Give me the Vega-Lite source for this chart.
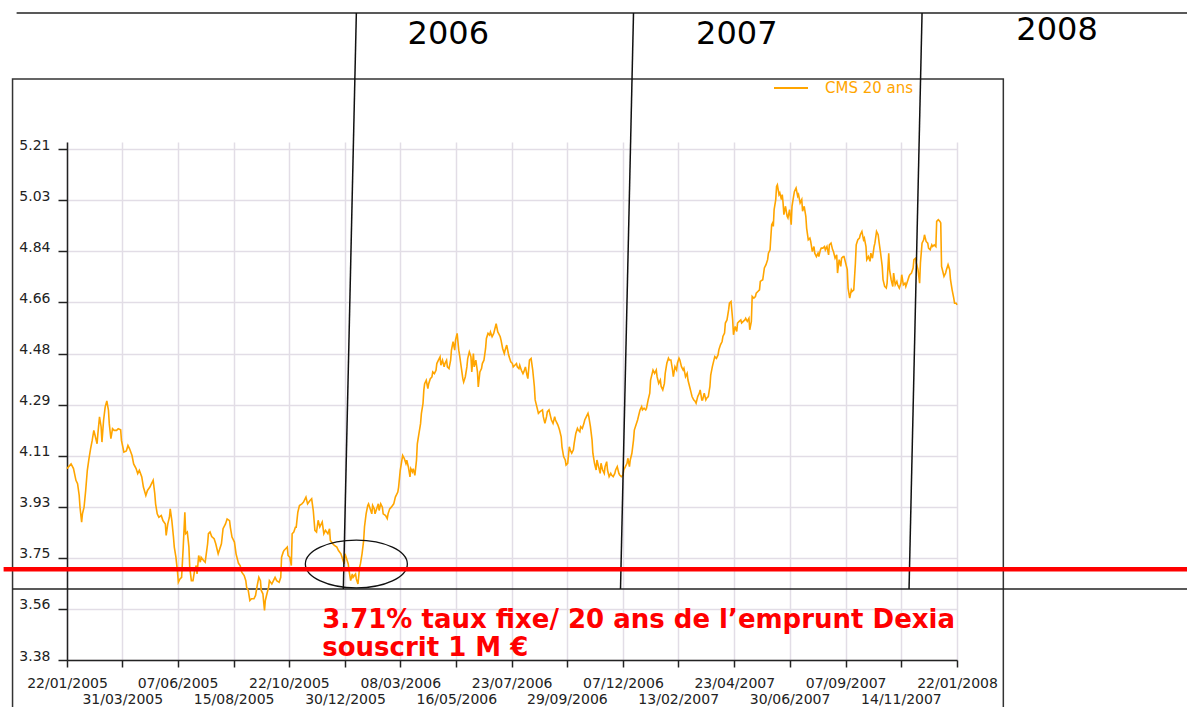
{
  "$schema": "https://vega.github.io/schema/vega-lite/v6.json",
  "width": 890,
  "height": 518,
  "autosize": "none",
  "padding": {"left": 67, "top": 142, "right": 230, "bottom": 47},
  "background": "white",
  "config": {"view": {"stroke": null}, "font": "DejaVu Sans"},
  "datasets": {
    "cms": [
      {"date":"2005-01-22","value":4.065},{"date":"2005-01-27","value":4.082},{"date":"2005-01-30","value":4.065},{"date":"2005-02-02","value":4.023},{"date":"2005-02-04","value":4.011},{"date":"2005-02-06","value":3.969},{"date":"2005-02-07","value":3.927},{"date":"2005-02-09","value":3.873},{"date":"2005-02-10","value":3.903},{"date":"2005-02-12","value":3.927},{"date":"2005-02-14","value":3.987},{"date":"2005-02-16","value":4.059},{"date":"2005-02-18","value":4.100},{"date":"2005-02-20","value":4.136},{"date":"2005-02-22","value":4.166},{"date":"2005-02-24","value":4.202},{"date":"2005-02-26","value":4.178},{"date":"2005-02-28","value":4.154},{"date":"2005-03-01","value":4.190},{"date":"2005-03-03","value":4.250},{"date":"2005-03-05","value":4.214},{"date":"2005-03-06","value":4.160},{"date":"2005-03-08","value":4.238},{"date":"2005-03-10","value":4.286},{"date":"2005-03-12","value":4.307},{"date":"2005-03-14","value":4.274},{"date":"2005-03-15","value":4.226},{"date":"2005-03-17","value":4.172},{"date":"2005-03-19","value":4.208},{"date":"2005-03-21","value":4.202},{"date":"2005-03-24","value":4.202},{"date":"2005-03-26","value":4.208},{"date":"2005-03-29","value":4.204},{"date":"2005-03-30","value":4.166},{"date":"2005-04-02","value":4.124},{"date":"2005-04-05","value":4.128},{"date":"2005-04-07","value":4.148},{"date":"2005-04-09","value":4.136},{"date":"2005-04-12","value":4.112},{"date":"2005-04-14","value":4.082},{"date":"2005-04-17","value":4.065},{"date":"2005-04-19","value":4.047},{"date":"2005-04-21","value":4.059},{"date":"2005-04-24","value":4.035},{"date":"2005-04-26","value":3.999},{"date":"2005-04-29","value":3.969},{"date":"2005-05-01","value":3.987},{"date":"2005-05-04","value":3.999},{"date":"2005-05-06","value":4.011},{"date":"2005-05-08","value":4.023},{"date":"2005-05-10","value":3.975},{"date":"2005-05-11","value":3.939},{"date":"2005-05-13","value":3.903},{"date":"2005-05-15","value":3.891},{"date":"2005-05-18","value":3.897},{"date":"2005-05-20","value":3.879},{"date":"2005-05-23","value":3.867},{"date":"2005-05-24","value":3.826},{"date":"2005-05-26","value":3.867},{"date":"2005-05-28","value":3.891},{"date":"2005-05-29","value":3.921},{"date":"2005-05-31","value":3.879},{"date":"2005-06-02","value":3.820},{"date":"2005-06-03","value":3.784},{"date":"2005-06-05","value":3.748},{"date":"2005-06-07","value":3.694},{"date":"2005-06-08","value":3.658},{"date":"2005-06-10","value":3.670},{"date":"2005-06-12","value":3.676},{"date":"2005-06-14","value":3.784},{"date":"2005-06-16","value":3.909},{"date":"2005-06-17","value":3.832},{"date":"2005-06-19","value":3.838},{"date":"2005-06-21","value":3.784},{"date":"2005-06-22","value":3.712},{"date":"2005-06-24","value":3.664},{"date":"2005-06-26","value":3.664},{"date":"2005-06-28","value":3.700},{"date":"2005-06-30","value":3.718},{"date":"2005-07-01","value":3.688},{"date":"2005-07-03","value":3.754},{"date":"2005-07-05","value":3.730},{"date":"2005-07-06","value":3.748},{"date":"2005-07-09","value":3.736},{"date":"2005-07-11","value":3.730},{"date":"2005-07-14","value":3.796},{"date":"2005-07-15","value":3.832},{"date":"2005-07-17","value":3.838},{"date":"2005-07-19","value":3.822},{"date":"2005-07-22","value":3.814},{"date":"2005-07-24","value":3.796},{"date":"2005-07-27","value":3.760},{"date":"2005-07-29","value":3.778},{"date":"2005-07-31","value":3.796},{"date":"2005-08-02","value":3.850},{"date":"2005-08-05","value":3.867},{"date":"2005-08-07","value":3.885},{"date":"2005-08-10","value":3.879},{"date":"2005-08-11","value":3.855},{"date":"2005-08-13","value":3.820},{"date":"2005-08-16","value":3.802},{"date":"2005-08-18","value":3.760},{"date":"2005-08-21","value":3.726},{"date":"2005-08-23","value":3.718},{"date":"2005-08-25","value":3.694},{"date":"2005-08-28","value":3.682},{"date":"2005-08-30","value":3.664},{"date":"2005-08-31","value":3.640},{"date":"2005-09-02","value":3.629},{"date":"2005-09-04","value":3.593},{"date":"2005-09-06","value":3.599},{"date":"2005-09-09","value":3.599},{"date":"2005-09-11","value":3.611},{"date":"2005-09-13","value":3.646},{"date":"2005-09-15","value":3.676},{"date":"2005-09-17","value":3.664},{"date":"2005-09-18","value":3.629},{"date":"2005-09-20","value":3.617},{"date":"2005-09-22","value":3.557},{"date":"2005-09-23","value":3.593},{"date":"2005-09-25","value":3.617},{"date":"2005-09-27","value":3.640},{"date":"2005-09-28","value":3.664},{"date":"2005-10-01","value":3.652},{"date":"2005-10-03","value":3.664},{"date":"2005-10-05","value":3.676},{"date":"2005-10-07","value":3.664},{"date":"2005-10-10","value":3.658},{"date":"2005-10-12","value":3.676},{"date":"2005-10-13","value":3.748},{"date":"2005-10-15","value":3.766},{"date":"2005-10-16","value":3.772},{"date":"2005-10-18","value":3.778},{"date":"2005-10-20","value":3.784},{"date":"2005-10-21","value":3.754},{"date":"2005-10-23","value":3.748},{"date":"2005-10-25","value":3.718},{"date":"2005-10-26","value":3.832},{"date":"2005-10-28","value":3.838},{"date":"2005-10-30","value":3.855},{"date":"2005-10-31","value":3.855},{"date":"2005-11-02","value":3.909},{"date":"2005-11-04","value":3.933},{"date":"2005-11-07","value":3.939},
      {"date":"2005-11-09","value":3.945},{"date":"2005-11-12","value":3.963},{"date":"2005-11-14","value":3.939},{"date":"2005-11-17","value":3.951},{"date":"2005-11-19","value":3.957},{"date":"2005-11-21","value":3.915},{"date":"2005-11-23","value":3.844},{"date":"2005-11-25","value":3.838},{"date":"2005-11-27","value":3.880},{"date":"2005-11-29","value":3.856},{"date":"2005-12-02","value":3.874},{"date":"2005-12-04","value":3.832},{"date":"2005-12-06","value":3.844},{"date":"2005-12-09","value":3.832},{"date":"2005-12-11","value":3.850},{"date":"2005-12-12","value":3.808},{"date":"2005-12-15","value":3.796},{"date":"2005-12-17","value":3.790},{"date":"2005-12-20","value":3.784},{"date":"2005-12-22","value":3.772},{"date":"2005-12-25","value":3.760},{"date":"2005-12-27","value":3.742},{"date":"2005-12-29","value":3.724},{"date":"2005-12-30","value":3.760},{"date":"2006-01-01","value":3.742},{"date":"2006-01-03","value":3.724},{"date":"2006-01-04","value":3.700},{"date":"2006-01-06","value":3.664},{"date":"2006-01-08","value":3.688},{"date":"2006-01-09","value":3.676},{"date":"2006-01-12","value":3.688},{"date":"2006-01-13","value":3.670},{"date":"2006-01-15","value":3.652},{"date":"2006-01-17","value":3.712},{"date":"2006-01-18","value":3.724},{"date":"2006-01-20","value":3.760},{"date":"2006-01-22","value":3.808},{"date":"2006-01-23","value":3.856},{"date":"2006-01-25","value":3.903},{"date":"2006-01-27","value":3.933},{"date":"2006-01-28","value":3.939},{"date":"2006-01-30","value":3.921},{"date":"2006-02-01","value":3.903},{"date":"2006-02-02","value":3.933},{"date":"2006-02-04","value":3.921},{"date":"2006-02-05","value":3.903},{"date":"2006-02-07","value":3.921},{"date":"2006-02-09","value":3.939},{"date":"2006-02-10","value":3.915},{"date":"2006-02-12","value":3.939},{"date":"2006-02-14","value":3.927},{"date":"2006-02-15","value":3.903},{"date":"2006-02-18","value":3.897},{"date":"2006-02-20","value":3.886},{"date":"2006-02-21","value":3.903},{"date":"2006-02-23","value":3.921},{"date":"2006-02-25","value":3.927},{"date":"2006-02-28","value":3.939},{"date":"2006-03-02","value":3.963},{"date":"2006-03-05","value":3.981},{"date":"2006-03-06","value":3.999},{"date":"2006-03-08","value":4.059},{"date":"2006-03-10","value":4.095},{"date":"2006-03-11","value":4.112},{"date":"2006-03-13","value":4.101},{"date":"2006-03-15","value":4.083},{"date":"2006-03-16","value":4.095},{"date":"2006-03-18","value":4.071},{"date":"2006-03-20","value":4.035},{"date":"2006-03-21","value":4.065},{"date":"2006-03-23","value":4.053},{"date":"2006-03-24","value":4.065},{"date":"2006-03-26","value":4.041},{"date":"2006-03-28","value":4.095},{"date":"2006-03-29","value":4.154},{"date":"2006-03-31","value":4.190},{"date":"2006-04-02","value":4.226},{"date":"2006-04-03","value":4.262},{"date":"2006-04-05","value":4.298},{"date":"2006-04-06","value":4.345},{"date":"2006-04-07","value":4.369},{"date":"2006-04-09","value":4.381},{"date":"2006-04-11","value":4.351},{"date":"2006-04-12","value":4.369},{"date":"2006-04-14","value":4.387},{"date":"2006-04-16","value":4.393},{"date":"2006-04-17","value":4.411},{"date":"2006-04-19","value":4.405},{"date":"2006-04-21","value":4.417},{"date":"2006-04-22","value":4.441},{"date":"2006-04-24","value":4.453},{"date":"2006-04-26","value":4.465},{"date":"2006-04-27","value":4.435},{"date":"2006-04-29","value":4.453},{"date":"2006-05-01","value":4.429},{"date":"2006-05-02","value":4.441},{"date":"2006-05-04","value":4.453},{"date":"2006-05-05","value":4.429},{"date":"2006-05-07","value":4.423},{"date":"2006-05-09","value":4.453},{"date":"2006-05-10","value":4.489},{"date":"2006-05-12","value":4.519},{"date":"2006-05-14","value":4.489},{"date":"2006-05-15","value":4.525},{"date":"2006-05-17","value":4.549},{"date":"2006-05-19","value":4.489},{"date":"2006-05-20","value":4.471},{"date":"2006-05-22","value":4.429},{"date":"2006-05-24","value":4.387},{"date":"2006-05-25","value":4.375},{"date":"2006-05-27","value":4.393},{"date":"2006-05-29","value":4.429},{"date":"2006-05-30","value":4.459},{"date":"2006-06-01","value":4.483},{"date":"2006-06-03","value":4.465},{"date":"2006-06-04","value":4.411},{"date":"2006-06-06","value":4.477},{"date":"2006-06-07","value":4.429},{"date":"2006-06-09","value":4.453},{"date":"2006-06-11","value":4.411},{"date":"2006-06-12","value":4.357},{"date":"2006-06-14","value":4.411},{"date":"2006-06-16","value":4.423},{"date":"2006-06-17","value":4.441},{"date":"2006-06-19","value":4.453},{"date":"2006-06-21","value":4.495},{"date":"2006-06-22","value":4.531},{"date":"2006-06-24","value":4.549},{"date":"2006-06-26","value":4.543},{"date":"2006-06-27","value":4.554},{"date":"2006-06-29","value":4.537},{"date":"2006-07-01","value":4.549},{"date":"2006-07-02","value":4.560},{"date":"2006-07-04","value":4.584},{"date":"2006-07-06","value":4.554},{"date":"2006-07-07","value":4.549},{"date":"2006-07-09","value":4.537},{"date":"2006-07-10","value":4.525},{"date":"2006-07-12","value":4.495},{"date":"2006-07-14","value":4.477},{"date":"2006-07-15","value":4.489},{"date":"2006-07-17","value":4.507},{"date":"2006-07-19","value":4.477},{"date":"2006-07-20","value":4.465},{"date":"2006-07-22","value":4.447},{"date":"2006-07-24","value":4.441},{"date":"2006-07-25","value":4.429},{"date":"2006-07-27","value":4.435},{"date":"2006-07-29","value":4.441},{"date":"2006-07-30","value":4.429},{"date":"2006-08-01","value":4.423},{"date":"2006-08-02","value":4.435},{"date":"2006-08-04","value":4.417},{"date":"2006-08-06","value":4.405},{"date":"2006-08-07","value":4.411},{"date":"2006-08-09","value":4.429},{"date":"2006-08-11","value":4.399},{"date":"2006-08-12","value":4.387},{"date":"2006-08-14","value":4.453},{"date":"2006-08-16","value":4.459},
      {"date":"2006-08-18","value":4.418},{"date":"2006-08-20","value":4.359},{"date":"2006-08-21","value":4.311},{"date":"2006-08-23","value":4.287},{"date":"2006-08-25","value":4.263},{"date":"2006-08-27","value":4.269},{"date":"2006-08-30","value":4.275},{"date":"2006-08-31","value":4.251},{"date":"2006-09-02","value":4.227},{"date":"2006-09-04","value":4.251},{"date":"2006-09-05","value":4.269},{"date":"2006-09-07","value":4.275},{"date":"2006-09-09","value":4.251},{"date":"2006-09-10","value":4.239},{"date":"2006-09-12","value":4.227},{"date":"2006-09-14","value":4.251},{"date":"2006-09-15","value":4.239},{"date":"2006-09-17","value":4.227},{"date":"2006-09-18","value":4.221},{"date":"2006-09-20","value":4.203},{"date":"2006-09-22","value":4.179},{"date":"2006-09-23","value":4.143},{"date":"2006-09-25","value":4.108},{"date":"2006-09-27","value":4.096},{"date":"2006-09-28","value":4.078},{"date":"2006-09-30","value":4.084},{"date":"2006-10-02","value":4.143},{"date":"2006-10-03","value":4.132},{"date":"2006-10-05","value":4.120},{"date":"2006-10-07","value":4.132},{"date":"2006-10-08","value":4.155},{"date":"2006-10-10","value":4.191},{"date":"2006-10-12","value":4.209},{"date":"2006-10-13","value":4.203},{"date":"2006-10-15","value":4.197},{"date":"2006-10-16","value":4.215},{"date":"2006-10-18","value":4.209},{"date":"2006-10-20","value":4.227},{"date":"2006-10-21","value":4.239},{"date":"2006-10-23","value":4.251},{"date":"2006-10-25","value":4.263},{"date":"2006-10-26","value":4.251},{"date":"2006-10-28","value":4.215},{"date":"2006-10-30","value":4.167},{"date":"2006-10-31","value":4.120},{"date":"2006-11-02","value":4.084},{"date":"2006-11-04","value":4.060},{"date":"2006-11-05","value":4.096},{"date":"2006-11-07","value":4.072},{"date":"2006-11-09","value":4.048},{"date":"2006-11-10","value":4.084},{"date":"2006-11-12","value":4.060},{"date":"2006-11-14","value":4.048},{"date":"2006-11-15","value":4.072},{"date":"2006-11-17","value":4.090},{"date":"2006-11-18","value":4.060},{"date":"2006-11-20","value":4.036},{"date":"2006-11-22","value":4.048},{"date":"2006-11-23","value":4.042},{"date":"2006-11-25","value":4.036},{"date":"2006-11-27","value":4.048},{"date":"2006-11-28","value":4.060},{"date":"2006-11-30","value":4.072},{"date":"2006-12-02","value":4.048},{"date":"2006-12-03","value":4.042},{"date":"2006-12-05","value":4.036},{"date":"2006-12-07","value":4.042},{"date":"2006-12-08","value":4.060},{"date":"2006-12-10","value":4.072},{"date":"2006-12-12","value":4.084},{"date":"2006-12-13","value":4.102},{"date":"2006-12-15","value":4.072},{"date":"2006-12-16","value":4.096},{"date":"2006-12-18","value":4.120},{"date":"2006-12-20","value":4.167},{"date":"2006-12-21","value":4.203},{"date":"2006-12-23","value":4.221},{"date":"2006-12-25","value":4.239},{"date":"2006-12-26","value":4.251},{"date":"2006-12-28","value":4.275},{"date":"2006-12-30","value":4.287},{"date":"2006-12-31","value":4.275},{"date":"2007-01-02","value":4.281},{"date":"2007-01-04","value":4.275},{"date":"2007-01-05","value":4.281},{"date":"2007-01-07","value":4.311},{"date":"2007-01-09","value":4.335},{"date":"2007-01-10","value":4.382},{"date":"2007-01-12","value":4.406},{"date":"2007-01-13","value":4.418},{"date":"2007-01-15","value":4.406},{"date":"2007-01-17","value":4.418},{"date":"2007-01-18","value":4.394},{"date":"2007-01-20","value":4.370},{"date":"2007-01-22","value":4.382},{"date":"2007-01-23","value":4.359},{"date":"2007-01-25","value":4.347},{"date":"2007-01-27","value":4.370},{"date":"2007-01-28","value":4.406},{"date":"2007-01-30","value":4.442},{"date":"2007-02-01","value":4.460},{"date":"2007-02-02","value":4.454},{"date":"2007-02-04","value":4.454},{"date":"2007-02-06","value":4.418},{"date":"2007-02-07","value":4.394},{"date":"2007-02-09","value":4.430},{"date":"2007-02-11","value":4.418},{"date":"2007-02-12","value":4.442},{"date":"2007-02-14","value":4.460},{"date":"2007-02-15","value":4.454},{"date":"2007-02-17","value":4.430},{"date":"2007-02-19","value":4.418},{"date":"2007-02-20","value":4.424},{"date":"2007-02-22","value":4.394},{"date":"2007-02-24","value":4.406},{"date":"2007-02-25","value":4.382},{"date":"2007-02-27","value":4.359},{"date":"2007-03-01","value":4.335},{"date":"2007-03-02","value":4.323},{"date":"2007-03-04","value":4.311},{"date":"2007-03-06","value":4.305},{"date":"2007-03-07","value":4.299},{"date":"2007-03-09","value":4.323},{"date":"2007-03-11","value":4.335},{"date":"2007-03-12","value":4.347},{"date":"2007-03-14","value":4.311},{"date":"2007-03-15","value":4.311},{"date":"2007-03-17","value":4.335},{"date":"2007-03-19","value":4.311},{"date":"2007-03-20","value":4.317},{"date":"2007-03-22","value":4.323},{"date":"2007-03-24","value":4.359},{"date":"2007-03-25","value":4.400},{"date":"2007-03-27","value":4.430},{"date":"2007-03-29","value":4.454},{"date":"2007-03-30","value":4.466},{"date":"2007-04-01","value":4.460},{"date":"2007-04-03","value":4.472},{"date":"2007-04-04","value":4.490},{"date":"2007-04-06","value":4.508},{"date":"2007-04-08","value":4.520},{"date":"2007-04-09","value":4.538},{"date":"2007-04-11","value":4.550},{"date":"2007-04-12","value":4.586},{"date":"2007-04-14","value":4.597},{"date":"2007-04-16","value":4.633},{"date":"2007-04-17","value":4.657},{"date":"2007-04-19","value":4.663},{"date":"2007-04-21","value":4.597},{"date":"2007-04-22","value":4.544},{"date":"2007-04-24","value":4.574},{"date":"2007-04-26","value":4.556},{"date":"2007-04-27","value":4.586},{"date":"2007-04-29","value":4.592},{"date":"2007-05-01","value":4.597},{"date":"2007-05-02","value":4.586},{"date":"2007-05-04","value":4.592},{"date":"2007-05-06","value":4.597},{"date":"2007-05-07","value":4.603},{"date":"2007-05-09","value":4.592},{"date":"2007-05-11","value":4.603},{"date":"2007-05-12","value":4.562},{"date":"2007-05-14","value":4.592},{"date":"2007-05-15","value":4.681},{"date":"2007-05-17","value":4.675},{"date":"2007-05-19","value":4.681},{"date":"2007-05-20","value":4.693},{"date":"2007-05-22","value":4.699},{"date":"2007-05-24","value":4.705},{"date":"2007-05-25","value":4.735},{"date":"2007-05-28","value":4.741},
      {"date":"2007-05-30","value":4.783},{"date":"2007-06-01","value":4.795},{"date":"2007-06-03","value":4.813},{"date":"2007-06-04","value":4.836},{"date":"2007-06-06","value":4.848},{"date":"2007-06-07","value":4.896},{"date":"2007-06-08","value":4.938},{"date":"2007-06-09","value":4.944},{"date":"2007-06-10","value":4.932},{"date":"2007-06-11","value":4.992},{"date":"2007-06-13","value":5.028},{"date":"2007-06-14","value":5.075},{"date":"2007-06-15","value":5.081},{"date":"2007-06-17","value":5.046},{"date":"2007-06-18","value":5.052},{"date":"2007-06-20","value":5.028},{"date":"2007-06-21","value":5.046},{"date":"2007-06-22","value":5.016},{"date":"2007-06-23","value":4.974},{"date":"2007-06-25","value":5.004},{"date":"2007-06-27","value":4.968},{"date":"2007-06-28","value":4.962},{"date":"2007-06-30","value":4.992},{"date":"2007-07-02","value":4.938},{"date":"2007-07-03","value":5.004},{"date":"2007-07-05","value":5.040},{"date":"2007-07-06","value":5.057},{"date":"2007-07-08","value":5.069},{"date":"2007-07-10","value":5.040},{"date":"2007-07-11","value":5.046},{"date":"2007-07-13","value":5.016},{"date":"2007-07-15","value":5.028},{"date":"2007-07-16","value":4.986},{"date":"2007-07-18","value":5.004},{"date":"2007-07-20","value":4.968},{"date":"2007-07-21","value":4.926},{"date":"2007-07-23","value":4.884},{"date":"2007-07-25","value":4.890},{"date":"2007-07-26","value":4.878},{"date":"2007-07-28","value":4.842},{"date":"2007-07-30","value":4.860},{"date":"2007-07-31","value":4.836},{"date":"2007-08-02","value":4.824},{"date":"2007-08-04","value":4.836},{"date":"2007-08-05","value":4.824},{"date":"2007-08-07","value":4.848},{"date":"2007-08-08","value":4.854},{"date":"2007-08-10","value":4.854},{"date":"2007-08-12","value":4.860},{"date":"2007-08-13","value":4.848},{"date":"2007-08-15","value":4.860},{"date":"2007-08-17","value":4.830},{"date":"2007-08-18","value":4.866},{"date":"2007-08-20","value":4.872},{"date":"2007-08-22","value":4.848},{"date":"2007-08-23","value":4.842},{"date":"2007-08-25","value":4.818},{"date":"2007-08-27","value":4.830},{"date":"2007-08-28","value":4.765},{"date":"2007-08-30","value":4.813},{"date":"2007-09-01","value":4.789},{"date":"2007-09-02","value":4.818},{"date":"2007-09-04","value":4.824},{"date":"2007-09-05","value":4.824},{"date":"2007-09-07","value":4.801},{"date":"2007-09-09","value":4.777},{"date":"2007-09-10","value":4.711},{"date":"2007-09-12","value":4.675},{"date":"2007-09-14","value":4.705},{"date":"2007-09-15","value":4.699},{"date":"2007-09-17","value":4.705},{"date":"2007-09-19","value":4.801},{"date":"2007-09-20","value":4.866},{"date":"2007-09-22","value":4.884},{"date":"2007-09-24","value":4.890},{"date":"2007-09-25","value":4.902},{"date":"2007-09-27","value":4.914},{"date":"2007-09-29","value":4.884},{"date":"2007-09-30","value":4.890},{"date":"2007-10-02","value":4.860},{"date":"2007-10-03","value":4.813},{"date":"2007-10-05","value":4.824},{"date":"2007-10-07","value":4.807},{"date":"2007-10-08","value":4.836},{"date":"2007-10-10","value":4.818},{"date":"2007-10-12","value":4.860},{"date":"2007-10-13","value":4.872},{"date":"2007-10-15","value":4.914},{"date":"2007-10-17","value":4.902},{"date":"2007-10-18","value":4.878},{"date":"2007-10-20","value":4.836},{"date":"2007-10-22","value":4.789},{"date":"2007-10-23","value":4.741},{"date":"2007-10-25","value":4.717},{"date":"2007-10-27","value":4.711},{"date":"2007-10-28","value":4.729},{"date":"2007-10-30","value":4.836},{"date":"2007-10-31","value":4.777},{"date":"2007-11-02","value":4.741},{"date":"2007-11-04","value":4.717},{"date":"2007-11-05","value":4.765},{"date":"2007-11-07","value":4.723},{"date":"2007-11-09","value":4.735},{"date":"2007-11-10","value":4.723},{"date":"2007-11-12","value":4.711},{"date":"2007-11-14","value":4.729},{"date":"2007-11-15","value":4.759},{"date":"2007-11-17","value":4.723},{"date":"2007-11-19","value":4.729},{"date":"2007-11-20","value":4.717},{"date":"2007-11-22","value":4.735},{"date":"2007-11-24","value":4.753},{"date":"2007-11-25","value":4.759},{"date":"2007-11-27","value":4.765},{"date":"2007-11-29","value":4.783},{"date":"2007-11-30","value":4.813},{"date":"2007-12-02","value":4.818},{"date":"2007-12-03","value":4.801},{"date":"2007-12-05","value":4.777},{"date":"2007-12-07","value":4.729},{"date":"2007-12-08","value":4.801},{"date":"2007-12-10","value":4.872},{"date":"2007-12-12","value":4.884},{"date":"2007-12-13","value":4.902},{"date":"2007-12-15","value":4.878},{"date":"2007-12-17","value":4.872},{"date":"2007-12-18","value":4.854},{"date":"2007-12-20","value":4.848},{"date":"2007-12-22","value":4.866},{"date":"2007-12-23","value":4.860},{"date":"2007-12-25","value":4.866},{"date":"2007-12-27","value":4.860},{"date":"2007-12-28","value":4.950},{"date":"2007-12-30","value":4.956},{"date":"2008-01-01","value":4.950},{"date":"2008-01-02","value":4.944},{"date":"2008-01-03","value":4.789},{"date":"2008-01-05","value":4.765},{"date":"2008-01-06","value":4.753},{"date":"2008-01-08","value":4.765},{"date":"2008-01-09","value":4.777},{"date":"2008-01-11","value":4.795},{"date":"2008-01-13","value":4.777},{"date":"2008-01-14","value":4.741},{"date":"2008-01-16","value":4.705},{"date":"2008-01-18","value":4.675},{"date":"2008-01-19","value":4.657},{"date":"2008-01-21","value":4.657},{"date":"2008-01-22","value":4.651}
    ]
  },
  "encoding": {
    "x": {
      "field": "date", "type": "temporal", "title": null,
      "scale": {"type": "utc", "domain": [{"year": 2005, "month": 1, "date": 22, "utc": true}, {"year": 2008, "month": 1, "date": 22, "utc": true}]},
      "axis": {
        "values": [
          {"year": 2005, "month": 1, "date": 22, "utc": true},
          {"year": 2005, "month": 3, "date": 31, "utc": true},
          {"year": 2005, "month": 6, "date": 7, "utc": true},
          {"year": 2005, "month": 8, "date": 15, "utc": true},
          {"year": 2005, "month": 10, "date": 22, "utc": true},
          {"year": 2005, "month": 12, "date": 30, "utc": true},
          {"year": 2006, "month": 3, "date": 8, "utc": true},
          {"year": 2006, "month": 5, "date": 16, "utc": true},
          {"year": 2006, "month": 7, "date": 23, "utc": true},
          {"year": 2006, "month": 9, "date": 29, "utc": true},
          {"year": 2006, "month": 12, "date": 7, "utc": true},
          {"year": 2007, "month": 2, "date": 13, "utc": true},
          {"year": 2007, "month": 4, "date": 23, "utc": true},
          {"year": 2007, "month": 6, "date": 30, "utc": true},
          {"year": 2007, "month": 9, "date": 7, "utc": true},
          {"year": 2007, "month": 11, "date": 14, "utc": true},
          {"year": 2008, "month": 1, "date": 22, "utc": true}
        ],
        "labelExpr": "round(datum.index * 16) % 2 == 0 ? utcFormat(datum.value, '%d/%m/%Y') : ['', utcFormat(datum.value, '%d/%m/%Y')]",
        "labelFlush": false, "labelOverlap": false, "labelBound": false,
        "labelFont": "DejaVu Sans", "labelFontSize": 14, "labelColor": "#222222",
        "labelPadding": 9, "labelLineHeight": 16,
        "tickSize": 7, "tickColor": "#222222", "tickWidth": 1.5,
        "domainColor": "#222222", "domainWidth": 1.5,
        "grid": true, "gridColor": "#e2dde6", "gridWidth": 1.5
      }
    },
    "y": {
      "field": "value", "type": "quantitative", "title": null,
      "scale": {"domain": [3.38, 5.234], "nice": false, "zero": false},
      "axis": {
        "values": [3.38, 3.5628, 3.7456, 3.9284, 4.1112, 4.294, 4.4768, 4.6596, 4.8424, 5.0252, 5.208],
        "format": ".2f",
        "labelFlush": false, "labelOverlap": false, "labelBound": false,
        "labelFont": "DejaVu Sans", "labelFontSize": 14, "labelColor": "#222222",
        "labelBaseline": "alphabetic", "labelPadding": 8,
        "tickSize": 9, "tickColor": "#222222", "tickWidth": 1.5,
        "domainColor": "#222222", "domainWidth": 1.5,
        "grid": true, "gridColor": "#e2dde6", "gridWidth": 1.5
      }
    }
  },
  "layer": [
    {
      "data": {"values": [{"date": "2004-11-16", "date2": "2008-03-19", "value": 5.4595, "value2": 3.165}]},
      "mark": {"type": "rect", "fillOpacity": 0, "stroke": "#333333", "strokeWidth": 1.5},
      "encoding": {"x2": {"field": "date2"}, "y2": {"field": "value2"}}
    },
    {
      "data": {"values": [
        {"date": "2004-11-21", "date2": "2009-01-01", "value": 5.6959, "value2": 5.6959},
        {"date": "2004-11-16", "date2": "2009-01-01", "value": 3.634, "value2": 3.634}
      ]},
      "mark": {"type": "rule", "color": "#222222", "strokeWidth": 1.5},
      "encoding": {"x2": {"field": "date2"}, "y2": {"field": "value2"}}
    },
    {
      "data": {"name": "cms"},
      "mark": {"type": "line", "strokeWidth": 1.6, "interpolate": "linear"},
      "encoding": {
        "color": {
          "datum": "CMS 20 ans",
          "scale": {"range": ["#FFA500"]},
          "legend": {
            "orient": "none", "legendX": 706, "legendY": -72, "title": null,
            "symbolType": "stroke", "symbolSize": 1156, "symbolStrokeWidth": 2,
            "labelFont": "DejaVu Sans", "labelFontSize": 15, "labelColor": "#FFA500",
            "labelOffset": 16, "padding": 0
          }
        }
      }
    },
    {
      "data": {"values": [
        {"date": "2006-01-13", "date2": "2005-12-28", "value": 5.6959, "value2": 3.634},
        {"date": "2006-12-20", "date2": "2006-12-04", "value": 5.6959, "value2": 3.634},
        {"date": "2007-12-10", "date2": "2007-11-24", "value": 5.6959, "value2": 3.634}
      ]},
      "mark": {"type": "rule", "color": "#111111", "strokeWidth": 1.5},
      "encoding": {"x2": {"field": "date2"}, "y2": {"field": "value2"}}
    },
    {
      "data": {"values": [{"date": "2006-01-13", "value": 3.7236}]},
      "mark": {"type": "point", "shape": "M-1,0A1,0.47,0,1,1,1,0A1,0.47,0,1,1,-1,0Z", "size": 10404, "filled": false, "stroke": "#111111", "strokeWidth": 1.3, "opacity": 1}
    },
    {
      "data": {"values": [{"date": "2004-11-05", "date2": "2009-01-01", "value": 3.705, "value2": 3.705}]},
      "mark": {"type": "rule", "color": "#FF0000", "strokeWidth": 4.5},
      "encoding": {"x2": {"field": "date2"}, "y2": {"field": "value2"}}
    },
    {
      "data": {"values": [
        {"date": "2005-12-02", "value": 3.4945, "label": "3.71% taux fixe/ 20 ans de l’emprunt  Dexia"},
        {"date": "2005-12-02", "value": 3.3943, "label": "souscrit 1 M €"}
      ]},
      "mark": {"type": "text", "align": "left", "baseline": "alphabetic", "font": "DejaVu Sans", "fontWeight": "bold", "fontSize": 26, "color": "#FF0000"},
      "encoding": {"text": {"field": "label"}}
    },
    {
      "data": {"values": [
        {"date": "2006-03-17", "value": 5.5847, "label": "2006"},
        {"date": "2007-03-07", "value": 5.5847, "label": "2007"},
        {"date": "2008-04-04", "value": 5.599, "label": "2008"}
      ]},
      "mark": {"type": "text", "align": "left", "baseline": "alphabetic", "font": "DejaVu Sans", "fontSize": 32, "color": "#000000"},
      "encoding": {"text": {"field": "label"}}
    }
  ]
}
